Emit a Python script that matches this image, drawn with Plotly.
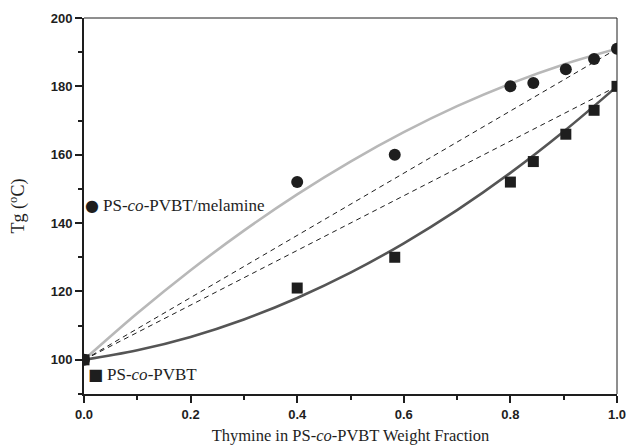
import plotly.graph_objects as go

# Measured points
w_frac = [0.0, 0.40, 0.583, 0.80, 0.843, 0.904, 0.957, 1.0]
tg_melamine = [100, 152, 160, 180, 181, 185, 188, 191]
tg_copolymer = [100, 121, 130, 152, 158, 166, 173, 180]

# Fitted curves
curve_w = [0.0, 0.1, 0.2, 0.3, 0.4, 0.5, 0.6, 0.7, 0.8, 0.9, 1.0]
curve_melamine = [100, 113.6, 126.2, 137.8, 148.4, 158.0, 166.6, 174.2, 180.8, 186.4, 191]
curve_copolymer = [100, 102.8, 106.7, 111.8, 118.1, 125.5, 134.1, 143.8, 154.7, 166.8, 180]

# Linear-additivity (dashed) lines
dash_w = [0.0, 1.0]
dash_melamine = [100, 191]
dash_copolymer = [100, 180]

x_ticks = [0.0, 0.2, 0.4, 0.6, 0.8, 1.0]
x_ticklabels = ["0.0", "0.2", "0.4", "0.6", "0.8", "1.0"]
y_ticks = [100, 120, 140, 160, 180, 200]
y_ticklabels = ["100", "120", "140", "160", "180", "200"]

legend_labels = ["PS-<i>co</i>-PVBT/melamine", "PS-<i>co</i>-PVBT"]

serif = "Liberation Serif, Times New Roman, serif"
sans = "Liberation Sans, Arial, sans-serif"
ink = "#1e1e1e"

fig = go.Figure()
fig.add_trace(go.Scatter(x=dash_w, y=dash_melamine, mode="lines",
                         line=dict(color=ink, width=1, dash="5px,4px")))
fig.add_trace(go.Scatter(x=dash_w, y=dash_copolymer, mode="lines",
                         line=dict(color=ink, width=1, dash="5px,4px")))
fig.add_trace(go.Scatter(x=curve_w, y=curve_melamine, mode="lines",
                         line=dict(color="#b8b8b8", width=2.6, shape="spline")))
fig.add_trace(go.Scatter(x=curve_w, y=curve_copolymer, mode="lines",
                         line=dict(color="#555555", width=2.6, shape="spline")))
fig.add_trace(go.Scatter(x=w_frac, y=tg_melamine, mode="markers",
                         marker=dict(symbol="circle", size=12, color=ink)))
fig.add_trace(go.Scatter(x=w_frac, y=tg_copolymer, mode="markers",
                         marker=dict(symbol="square", size=11, color=ink)))

# legend glyphs and texts
fig.add_annotation(x=0.0144, y=145.2, xref="x", yref="y", xanchor="center", yanchor="middle",
                   showarrow=False, text="●",
                   font=dict(family="DejaVu Sans", size=16, color=ink))
fig.add_annotation(x=0.031, y=145.2, xref="x", yref="y", xanchor="left", yanchor="middle",
                   showarrow=False, text=legend_labels[0],
                   font=dict(family=serif, size=17, color=ink))
fig.add_annotation(x=0.0225, y=95.6, xref="x", yref="y", xanchor="center", yanchor="middle",
                   showarrow=False, text="■",
                   font=dict(family="DejaVu Sans", size=16, color=ink))
fig.add_annotation(x=0.040, y=95.6, xref="x", yref="y", xanchor="left", yanchor="middle",
                   showarrow=False, text=legend_labels[1],
                   font=dict(family=serif, size=17, color=ink))

# thin top / right frame
fig.add_shape(type="line", xref="paper", yref="paper", x0=0, x1=1, y0=1, y1=1,
              line=dict(color=ink, width=1))
fig.add_shape(type="line", xref="paper", yref="paper", x0=1, x1=1, y0=0, y1=1,
              line=dict(color=ink, width=1))

fig.update_layout(
    width=628, height=446,
    margin=dict(l=84, r=11, t=18, b=52, autoexpand=False),
    paper_bgcolor="white", plot_bgcolor="white",
    showlegend=False,
    xaxis=dict(range=[0, 1], tickvals=x_ticks, ticktext=["<b>%s</b>" % t for t in x_ticklabels],
               automargin=False,
               showgrid=False, zeroline=False, showline=True, linecolor=ink, linewidth=2,
               ticks="outside", ticklen=7, tickwidth=1.5, tickcolor=ink,
               ticklabeloverflow="allow",
               minor=dict(dtick=0.1, ticks="outside", ticklen=4, tickwidth=1.5, tickcolor=ink),
               tickfont=dict(family=sans, size=13, color=ink, weight="bold"),
               title=dict(text="Thymine in PS-<i>co</i>-PVBT Weight Fraction",
                          font=dict(family=serif, size=16.5, color=ink), standoff=9)),
    yaxis=dict(range=[90, 200], tickvals=y_ticks, ticktext=["<b>%s</b>" % t for t in y_ticklabels],
               automargin=False,
               showgrid=False, zeroline=False, showline=True, linecolor=ink, linewidth=2,
               ticks="outside", ticklen=7, tickwidth=1.5, tickcolor=ink,
               ticklabeloverflow="allow",
               minor=dict(dtick=10, ticks="outside", ticklen=4, tickwidth=1.5, tickcolor=ink),
               tickfont=dict(family=sans, size=13, color=ink, weight="bold"),
               title=dict(text="Tg (<sup>o</sup>C)",
                          font=dict(family=serif, size=18, color=ink), standoff=21)),
)

fig.write_html("out.html", config={"displayModeBar": False},
               post_script="document.body.style.margin='0';")
